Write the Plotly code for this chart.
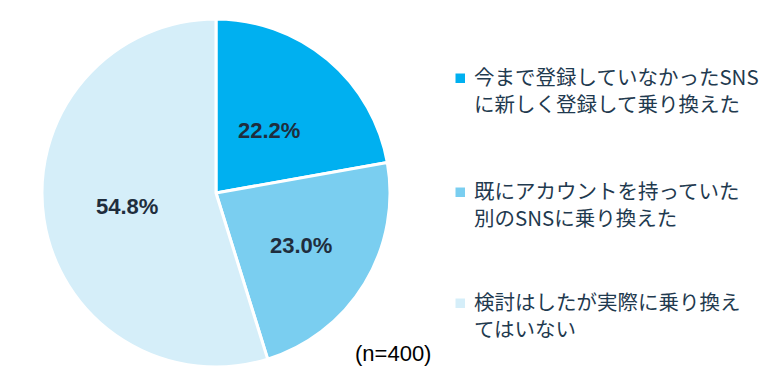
import math
import plotly.graph_objects as go

categories = ["今まで登録していなかったSNSに新しく登録して乗り換えた",
              "既にアカウントを持っていた別のSNSに乗り換えた",
              "検討はしたが実際に乗り換えてはいない"]
legend_lines = [["今まで登録していなかったSNS", "に新しく登録して乗り換えた"],
                ["既にアカウントを持っていた", "別のSNSに乗り換えた"],
                ["検討はしたが実際に乗り換え", "てはいない"]]
values = [22.2, 23.0, 54.8]
colors = ["#00B0F0", "#7ACEF0", "#D5EEF9"]
note = "(n=400)"

W, H = 769, 384
OX, OY = 8, 8  # page body margin compensation

def px(x):
    return (x - OX) / W

def py(y):
    return 1 - (y - OY) / H

cx, cy, R = 216, 193, 174
fig = go.Figure()
fig.add_trace(go.Pie(
    values=values, labels=categories, sort=False, direction="clockwise", rotation=0,
    marker=dict(colors=colors, line=dict(color="white", width=3)),
    textinfo="none",
    domain=dict(x=[px(cx - R), px(cx + R)], y=[py(cy + R), py(cy - R)]),
    showlegend=False, hoverinfo="label+percent",
))

# data labels at slice mid-angles
label_r = [0.47, 0.575, 0.52]
total = sum(values)
start = 0.0
for v, fr in zip(values, label_r):
    mid = (start + v / 2) / total * 2 * math.pi
    start += v
    lx = cx + fr * R * math.sin(mid)
    ly = cy - fr * R * math.cos(mid)
    fig.add_annotation(x=px(lx), y=py(ly), xref="paper", yref="paper", showarrow=False,
                       xanchor="center", yanchor="middle",
                       text=f"<b>{v:.1f}%</b>",
                       font=dict(family="Liberation Sans, Arial", size=22, color="#1F2D3D"))

leg_y = [78, 192, 303]
for lines, col, yy in zip(legend_lines, colors, leg_y):
    fig.add_shape(type="rect", xref="paper", yref="paper",
                  x0=px(455.5), x1=px(465), y0=py(yy + 5), y1=py(yy - 4.5),
                  fillcolor=col, line=dict(width=0))
    fig.add_annotation(x=px(472), y=py(yy + 11.75), xref="paper", yref="paper",
                       xanchor="left", yanchor="middle", align="left",
                       showarrow=False,
                       text="<br>".join(lines),
                       font=dict(family="Noto Sans CJK JP", size=20.5, color="#1F3A4F"))
fig.add_annotation(x=px(393), y=py(353), xref="paper", yref="paper", showarrow=False,
                   xanchor="center", yanchor="middle",
                   text=note, font=dict(family="Liberation Sans, Arial", size=22, color="black"))

fig.update_layout(width=W, height=H, margin=dict(l=0, r=0, t=0, b=0),
                  paper_bgcolor="white", plot_bgcolor="white")
fig.write_html("out.html")
